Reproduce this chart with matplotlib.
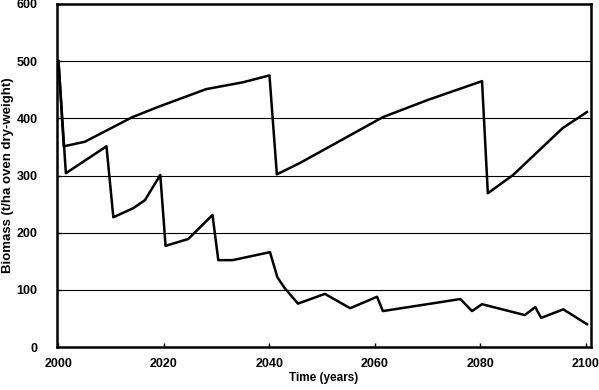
import matplotlib.pyplot as plt

plt.rcParams['font.family'] = ['Liberation Sans', 'DejaVu Sans']

# upper series
years_a = [2000, 2001, 2005, 2014, 2019.2, 2028, 2035, 2040, 2041.4, 2045.8,
           2061.5, 2070, 2080.3, 2081.4, 2086.2, 2095.6, 2100.2]
bio_a = [500, 351, 359, 402, 421, 451, 463, 475, 302, 322,
         402, 432, 465, 269, 301, 383, 411]

# lower series
years_b = [2000, 2001.4, 2009.1, 2010.4, 2014.2, 2016.4, 2019.3, 2020.3, 2024.6,
           2029.2, 2030.3, 2033, 2040.1, 2041.5, 2042.9, 2045.4, 2050.5, 2055.3,
           2060.4, 2061.5, 2076.2, 2078.4, 2080.3, 2088.4, 2090.4, 2091.5,
           2095.7, 2100.2]
bio_b = [500, 304, 351, 227, 243, 257, 301, 177, 189,
         231, 152, 152, 166, 122, 103, 76, 93, 68,
         88, 63, 84, 63, 75, 56, 70, 51,
         66, 40]

yticks = [0, 100, 200, 300, 400, 500, 600]
xticks = [2000, 2020, 2040, 2060, 2080, 2100]

fig = plt.figure(figsize=(5.99, 3.9), dpi=100)
ax = fig.add_axes([0.095, 0.11, 0.892, 0.88])

for y in yticks[1:-1]:
    ax.axhline(y, color='black', lw=0.8, zorder=1)

ax.plot(years_a, bio_a, color='black', lw=1.8, zorder=3)
ax.plot(years_b, bio_b, color='black', lw=1.8, zorder=3)

ax.set_xlim(1999.7, 2101)
ax.set_ylim(0, 600)
ax.set_xticks(xticks)
ax.set_yticks(yticks)
ax.tick_params(axis='x', direction='in', length=3, width=1, pad=8)
ax.tick_params(axis='y', direction='in', length=3, width=1, pad=14)
for lbl in ax.get_xticklabels() + ax.get_yticklabels():
    lbl.set_fontsize(9)
    lbl.set_fontweight('bold')

for s in ax.spines.values():
    s.set_linewidth(1.8)

ax.set_xlabel('Time (years)', fontsize=8.5, fontweight='bold', labelpad=1)
ax.set_ylabel('Biomass (t/ha oven dry-weight)', fontsize=9.5,
              fontweight='bold', labelpad=2)

fig.savefig('out.png', dpi=100)
